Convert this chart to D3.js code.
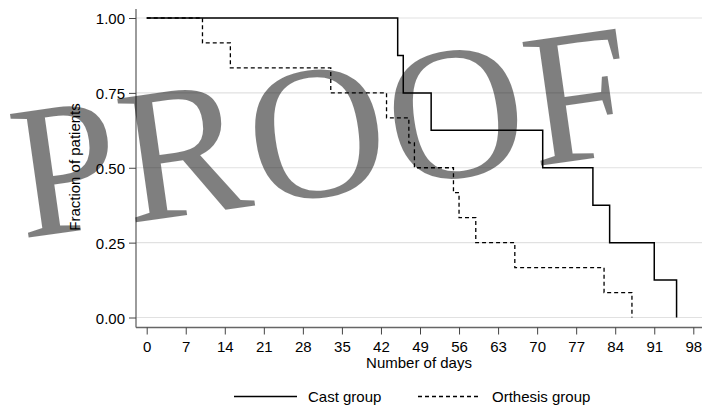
<!DOCTYPE html>
<html><head><meta charset="utf-8">
<script src="https://cdn.jsdelivr.net/npm/d3@7"></script>
<style>body{margin:0;background:#fff}svg{display:block}</style>
</head><body>
<svg id="c" width="702" height="408"></svg>
<script>
const castDays = [0,45,46,51,71,80,83,91,95];
const castFrac = [1,0.875,0.75,0.625,0.5,0.375,0.25,0.125,0];
const orthDays = [0,10,15,33,43,47,48,55,56,59,66,82,87];
const orthFrac = [1,11/12,10/12,9/12,8/12,7/12,6/12,5/12,4/12,3/12,2/12,1/12,0];
const xTicks = [0,7,14,21,28,35,42,49,56,63,70,77,84,91,98];
const yTicks = [0,0.25,0.5,0.75,1];
const seriesNames = ["Cast group","Orthesis group"];

const svg = d3.select("#c");
const font = "'Liberation Sans', Arial, sans-serif";
const x = d3.scaleLinear().domain([0,98]).range([146.7,693.3]);
const y = d3.scaleLinear().domain([0,1]).range([317.5,18]);
const axL = 136, axB = 327.5, plotRight = 702, plotTop = 9;

// grid
svg.append("g").selectAll("line").data(yTicks).join("line")
  .attr("x1",axL).attr("x2",plotRight).attr("y1",d=>y(d)).attr("y2",d=>y(d))
  .attr("stroke","#e1e1e1").attr("stroke-width",1.2);

// y axis
const ya = svg.append("g").attr("transform",`translate(${axL},0)`)
  .call(d3.axisLeft(y).tickValues(yTicks).tickFormat(d3.format(".2f")).tickSize(7).tickPadding(4));
ya.select(".domain").attr("d",`M0,${plotTop}V${axB}`);
ya.selectAll(".tick text").attr("dy","0.38em");
// x axis
const xa = svg.append("g").attr("transform",`translate(0,${axB})`)
  .call(d3.axisBottom(x).tickValues(xTicks).tickSize(7).tickPadding(6.5));
xa.select(".domain").attr("d",`M${axL},0H${plotRight}`);
svg.selectAll(".domain").attr("stroke","#666").attr("stroke-width",1.3);
svg.selectAll(".tick line").attr("stroke","#444").attr("stroke-width",1);
svg.selectAll(".tick text").attr("font-family",font).attr("font-size",15).attr("fill","#000");

svg.append("text").attr("x",419).attr("y",368).attr("text-anchor","middle")
  .attr("font-family",font).attr("font-size",15).text("Number of days");
svg.append("text").attr("transform","translate(80,167) rotate(-90)").attr("text-anchor","middle")
  .attr("font-family",font).attr("font-size",15).text("Fraction of patients");

const line = d3.line().x(d=>x(d[0])).y(d=>y(d[1])).curve(d3.curveStepAfter);
svg.append("path").datum(castDays.map((d,i)=>[d,castFrac[i]])).attr("d",line)
  .attr("fill","none").attr("stroke","#000").attr("stroke-width",1.5);
svg.append("path").datum(orthDays.map((d,i)=>[d,orthFrac[i]])).attr("d",line)
  .attr("fill","none").attr("stroke","#000").attr("stroke-width",1.3).attr("stroke-dasharray","4,3");

// legend
svg.append("line").attr("x1",234).attr("x2",297).attr("y1",396.5).attr("y2",396.5)
  .attr("stroke","#000").attr("stroke-width",1.3);
svg.append("text").attr("x",308).attr("y",401.5).attr("font-family",font).attr("font-size",15).text(seriesNames[0]);
svg.append("line").attr("x1",418).attr("x2",480).attr("y1",396.5).attr("y2",396.5)
  .attr("stroke","#000").attr("stroke-width",1.3).attr("stroke-dasharray","4,3");
svg.append("text").attr("x",492).attr("y",401.5).attr("font-family",font).attr("font-size",15).text(seriesNames[1]);

// watermark
svg.append("text").attr("transform","translate(22,238.4) rotate(-8)").attr("text-anchor","start")
  .attr("font-family","'Liberation Serif','Times New Roman',serif").attr("font-size",191)
  .attr("letter-spacing",2)
  .attr("fill","#000").attr("fill-opacity",0.5).text("PROOF");
</script>
</body></html>
